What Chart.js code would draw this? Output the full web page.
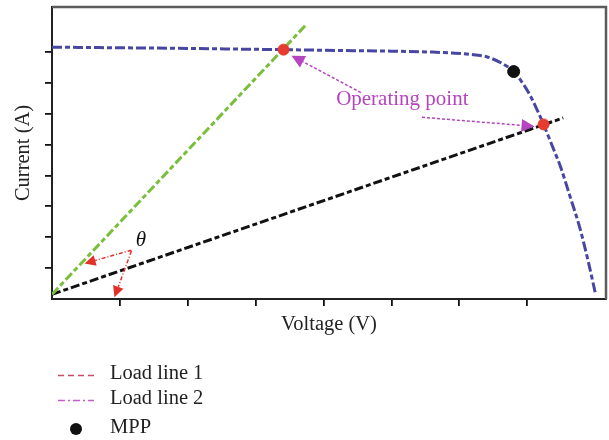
<!DOCTYPE html>
<html>
<head>
<meta charset="utf-8">
<script src="https://cdn.jsdelivr.net/npm/chart.js@4/dist/chart.umd.min.js"></script>
<style>
  html, body { margin: 0; padding: 0; background: #fff; }
  #wrap { width: 609px; height: 440px; position: relative; }
</style>
</head>
<body>
<div id="wrap"><canvas id="ivChart"></canvas></div>
<script>
// PV module I-V curve
const ivVoltage = [0, 1, 2, 3, 3.41, 4, 5, 5.6, 5.9, 6.15, 6.4, 6.65, 6.8, 6.95, 7.04, 7.15, 7.24, 7.36, 7.49, 7.63, 7.78, 7.9, 8.0];
const ivCurrent = [8.15, 8.13, 8.11, 8.08, 8.07, 8.05, 8.02, 7.99, 7.96, 7.92, 7.84, 7.6, 7.36, 6.93, 6.6, 6.1, 5.65, 5.0, 4.28, 3.32, 2.26, 1.2, 0.22];

// resistive load lines (start, end)
const load1Voltage = [0, 3.74];
const load1Current = [0.15, 8.87];
const load2Voltage = [0, 7.53];
const load2Current = [0.15, 5.86];

// intersections with the I-V curve
const opVoltage = [3.41, 7.24];
const opCurrent = [8.07, 5.65];

const mppVoltage = [6.8];
const mppCurrent = [7.36];

const xTicks = [1, 2, 3, 4, 5, 6, 7];
const yTicks = [1, 2, 3, 4, 5, 6, 7, 8];

const legendLabels = ['Load line 1', 'Load line 2', 'MPP'];

const SERIF = '"Liberation Serif", "DejaVu Serif", serif';

function pts(xs, ys) {
  return xs.map((x, i) => ({ x, y: ys[i] }));
}

function arrow(ctx, x1, y1, x2, y2, color, dash, head) {
  const a = Math.atan2(y2 - y1, x2 - x1);
  const bx = x2 - Math.cos(a) * head;
  const by = y2 - Math.sin(a) * head;
  ctx.save();
  ctx.strokeStyle = color;
  ctx.fillStyle = color;
  ctx.lineWidth = 1.5;
  ctx.setLineDash(dash);
  ctx.beginPath();
  ctx.moveTo(x1, y1);
  ctx.lineTo(bx, by);
  ctx.stroke();
  ctx.setLineDash([]);
  const w = head * 0.5;
  ctx.beginPath();
  ctx.moveTo(x2, y2);
  ctx.lineTo(bx + Math.sin(a) * w, by - Math.cos(a) * w);
  ctx.lineTo(bx - Math.sin(a) * w, by + Math.cos(a) * w);
  ctx.closePath();
  ctx.fill();
  ctx.restore();
}

const overlay = {
  id: 'overlay',
  afterDatasetsDraw(chart) {
    const { ctx, scales: { x, y } } = chart;
    const px = v => x.getPixelForValue(v);
    const py = v => y.getPixelForValue(v);

    // "Operating point" label with arrows to both intersections
    const magenta = '#b544bf';
    ctx.save();
    ctx.font = '21px ' + SERIF;
    ctx.fillStyle = magenta;
    ctx.textAlign = 'center';
    ctx.textBaseline = 'middle';
    ctx.fillText('Operating point', px(5.16), py(6.45));
    ctx.restore();
    arrow(ctx, px(4.55), py(6.68), px(opVoltage[0]) + 8, py(opCurrent[0]) + 6, magenta, [3, 2], 13);
    arrow(ctx, px(5.45), py(5.88), px(opVoltage[1]) - 9, py(opCurrent[1]) + 2, magenta, [3, 2], 13);

    // angle marker
    ctx.save();
    ctx.font = 'italic 21px ' + SERIF;
    ctx.fillStyle = '#111';
    ctx.textAlign = 'center';
    ctx.textBaseline = 'middle';
    ctx.fillText('θ', px(1.31), py(1.88));
    ctx.restore();
    const red = '#e0322a';
    arrow(ctx, px(1.17), py(1.58), px(0.48), py(1.15), red, [4, 2, 1, 2], 11);
    arrow(ctx, px(1.17), py(1.55), px(0.92), py(0.06), red, [4, 2, 1, 2], 11);
  },
  afterDraw(chart) {
    const { ctx, chartArea: a } = chart;
    // top and right frame
    ctx.save();
    ctx.strokeStyle = '#5c5c5c';
    ctx.lineWidth = 2.5;
    ctx.beginPath();
    ctx.moveTo(a.left, a.top);
    ctx.lineTo(a.right, a.top);
    ctx.lineTo(a.right, a.bottom);
    ctx.stroke();
    ctx.restore();

    // legend under the plot
    const rows = [374, 399, 428];
    ctx.save();
    ctx.lineWidth = 1.6;
    ctx.strokeStyle = '#c94a64';
    ctx.setLineDash([6, 4]);
    ctx.beginPath();
    ctx.moveTo(58, 375.5);
    ctx.lineTo(94, 375.5);
    ctx.stroke();
    ctx.strokeStyle = '#c65ccb';
    ctx.setLineDash([7, 3, 2, 3]);
    ctx.beginPath();
    ctx.moveTo(58, 400.5);
    ctx.lineTo(94, 400.5);
    ctx.stroke();
    ctx.setLineDash([]);
    ctx.fillStyle = '#111';
    ctx.beginPath();
    ctx.arc(76, 429, 6, 0, Math.PI * 2);
    ctx.fill();
    ctx.font = '20.5px ' + SERIF;
    ctx.fillStyle = '#222';
    ctx.textBaseline = 'middle';
    legendLabels.forEach((t, i) => ctx.fillText(t, 110, rows[i]));
    ctx.restore();
  }
};

new Chart(document.getElementById('ivChart'), {
  type: 'scatter',
  data: {
    datasets: [
      {
        label: 'MPP',
        data: pts(mppVoltage, mppCurrent),
        backgroundColor: '#111',
        borderColor: '#111',
        pointRadius: 6,
        order: 0,
      },
      {
        label: 'Operating point',
        data: pts(opVoltage, opCurrent),
        backgroundColor: '#e63b2e',
        borderColor: '#e63b2e',
        pointRadius: 5.5,
        order: 1,
      },
      {
        label: 'I-V curve',
        data: pts(ivVoltage, ivCurrent),
        showLine: true,
        borderColor: '#4747a3',
        borderWidth: 3,
        borderDash: [10, 3, 5, 3],
        cubicInterpolationMode: 'monotone',
        pointRadius: 0,
        order: 2,
      },
      {
        label: 'Load line 1',
        data: pts(load1Voltage, load1Current),
        showLine: true,
        borderColor: '#79bf3b',
        borderWidth: 3,
        borderDash: [9, 3, 5, 3],
        pointRadius: 0,
        order: 3,
      },
      {
        label: 'Load line 2',
        data: pts(load2Voltage, load2Current),
        showLine: true,
        borderColor: '#111',
        borderWidth: 3,
        borderDash: [9, 3, 5, 3],
        pointRadius: 0,
        order: 3,
      },
    ],
  },
  options: {
    responsive: true,
    maintainAspectRatio: false,
    animation: false,
    layout: { autoPadding: false, padding: { top: 7, right: 3, bottom: 101, left: 0 } },
    plugins: {
      legend: { display: false },
      tooltip: { enabled: false },
    },
    scales: {
      x: {
        type: 'linear',
        min: 0,
        max: 8.16,
        afterBuildTicks: s => { s.ticks = xTicks.map(v => ({ value: v })); },
        afterFit: s => { s.height = 40; },
        ticks: { display: false },
        grid: { drawOnChartArea: false, drawTicks: true, tickLength: 7, color: '#111', lineWidth: 1.8 },
        border: { display: true, color: '#222', width: 2 },
        title: {
          display: true,
          text: 'Voltage (V)',
          color: '#222',
          font: { family: SERIF, size: 20.5 },
          padding: { top: 0, bottom: 2 },
        },
      },
      y: {
        type: 'linear',
        min: 0,
        max: 9.45,
        afterBuildTicks: s => { s.ticks = yTicks.map(v => ({ value: v })); },
        afterFit: s => { s.width = 52; },
        ticks: { display: false },
        grid: { drawOnChartArea: false, drawTicks: true, tickLength: 7, color: '#111', lineWidth: 1.8 },
        border: { display: true, color: '#222', width: 2 },
        title: {
          display: true,
          text: 'Current (A)',
          color: '#222',
          font: { family: SERIF, size: 20.5 },
          padding: { top: 11, bottom: 0 },
        },
      },
    },
  },
  plugins: [overlay],
});
</script>
</body>
</html>
